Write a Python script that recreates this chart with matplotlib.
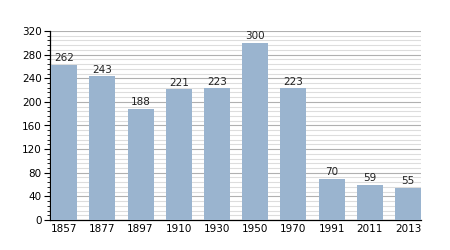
import matplotlib.pyplot as plt
from matplotlib.ticker import MultipleLocator

years = ['1857', '1877', '1897', '1910', '1930', '1950', '1970', '1991', '2011', '2013']
population = [262, 243, 188, 221, 223, 300, 223, 70, 59, 55]

bar_color = '#9ab4cf'

fig = plt.figure(figsize=(4.5, 2.5), dpi=100)
ax = fig.add_axes([50/450, 30/250, 371/450, 189/250])

x = list(range(len(years)))
ax.bar(x, population, width=0.68, color=bar_color, zorder=3)
for xi, v in zip(x, population):
    ax.text(xi, v + 3, str(v), ha='center', va='bottom', fontsize=7.5, color='#222222', zorder=4)

ax.set_xlim(-0.37, 9.34)
ax.set_ylim(0, 320)
ax.set_xticks(x)
ax.set_xticklabels(years)
ax.yaxis.set_major_locator(MultipleLocator(40))
ax.yaxis.set_minor_locator(MultipleLocator(8))

ax.grid(axis='y', which='major', color='#b0b0b0', linewidth=0.8, zorder=0)
ax.grid(axis='y', which='minor', color='#dddddd', linewidth=0.8, zorder=0)

for s in ['top', 'right']:
    ax.spines[s].set_visible(False)
ax.spines['left'].set_linewidth(0.9)
ax.spines['bottom'].set_linewidth(0.9)

ax.tick_params(axis='x', length=0, labelsize=7.5, pad=3)
ax.tick_params(axis='y', which='major', length=4, direction='out', labelsize=7.5, pad=2)
ax.tick_params(axis='y', which='minor', length=2, direction='out')

fig.savefig('out.png', dpi=100)
